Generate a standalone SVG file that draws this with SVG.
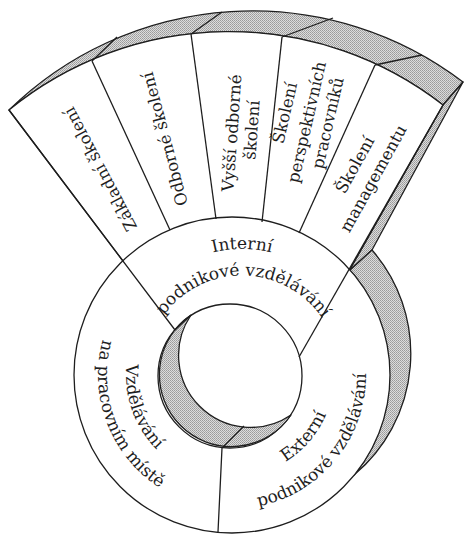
<svg xmlns="http://www.w3.org/2000/svg" xmlns:xlink="http://www.w3.org/1999/xlink" width="464" height="534" viewBox="0 0 464 534">
<style>
.ln{fill:none;stroke:#1e1e1e;stroke-width:1.3;stroke-linejoin:round}
.sh{fill:url(#dots);stroke:#1e1e1e;stroke-width:1.3;stroke-linejoin:round}
.wh{fill:#fff;stroke:#1e1e1e;stroke-width:1.3;stroke-linejoin:round}
.t{font-family:"DejaVu Serif","Liberation Serif",serif;font-size:16.5px;fill:#1e1e1e;text-anchor:middle}
.r{font-family:"DejaVu Serif","Liberation Serif",serif;font-size:17px;fill:#1e1e1e}
</style>
<defs>
<pattern id="dots" width="2" height="2" patternUnits="userSpaceOnUse">
<rect width="2" height="2" fill="#dcdcdc"/>
<rect width="1" height="1" fill="#9a9a9a"/>
<rect x="1" y="1" width="1" height="1" fill="#a8a8a8"/>
</pattern>
<path id="pInt" d="M162.9,277.8 A123,123 0 0 1 321.1,277.8"/>
<path id="pIntPod" d="M149.2,345.4 A96.5,96.5 0 0 1 335.6,348.7"/>
<path id="pNa" d="M127.9,290.7 A134,134 0 0 0 211,507.4"/>
<path id="pVzd" d="M151.5,306 A106,106 0 0 0 212.5,479.2"/>
<path id="pExtPod" d="M199.8,505.1 A134,134 0 0 0 352.3,316.1"/>
<path id="pExt" d="M231.1,477 A102,102 0 0 0 332.6,358.2"/>
</defs>
<rect width="464" height="534" fill="#fff"/>

<g id="solid">
<path class="sh" d="M9,110 A348,348 0 0 1 443,105 L463,82 A348,348 0 0 0 9,110 Z"/>
<path class="sh" d="M443,105 L463,82 L372,250 L349,271 Z"/>
<path class="sh" d="M372,250 A158,158 0 0 1 354,475 A158,158 0 0 0 349,271 Z"/>
<path class="wh" d="M9,110 A348,348 0 0 1 443,105 L349,271 L123,261 Z"/>
<circle class="wh" cx="232" cy="375" r="158"/>
<circle class="wh" cx="230" cy="376" r="72"/>
<path class="sh" d="M191,315 A72,72 0 1 0 291,415 A72,72 0 0 1 191,315 Z"/>
</g>

<g id="connectors">
<path class="ln" d="M9,110 L175,330 L190,316"/>
<path class="ln" d="M443,105 L299,357"/>
<path class="ln" d="M218,532 L222,448 L244,426"/>
<path class="ln" d="M92,61 L170,230"/>
<path class="ln" d="M191,34 L216,219"/>
<path class="ln" d="M282,37 L262,222"/>
<path class="ln" d="M375,65 L299,233"/>
<path class="ln" d="M92,61 L117,37"/>
<path class="ln" d="M191,34 L222,12"/>
<path class="ln" d="M282,37 L333,18"/>
<path class="ln" d="M375,65 L422,55"/>
</g>

<g id="zakladni-skoleni">
<text class="t" transform="translate(100.5,169) rotate(-118)" dy="0.33em">Základní školení</text>
</g>
<g id="odborne-skoleni">
<text class="t" transform="translate(165,139) rotate(-105)" dy="0.33em">Odborné školení</text>
</g>
<g id="vyssi-odborne-skoleni">
<text class="t" transform="translate(232,133) rotate(-86)" dy="0.33em">Vyšší odborné</text>
<text class="t" transform="translate(252,130) rotate(-86)" dy="0.33em">školení</text>
</g>
<g id="skoleni-perspektivnich-pracovniku">
<text class="t" transform="translate(285,113) rotate(-77)" dy="0.33em">Školení</text>
<text class="t" transform="translate(307,122) rotate(-77)" dy="0.33em">perspektivních</text>
<text class="t" transform="translate(328,123) rotate(-77)" dy="0.33em">pracovníků</text>
</g>
<g id="skoleni-managementu">
<text class="t" transform="translate(355,165) rotate(-61)" dy="0.33em">Školení</text>
<text class="t" transform="translate(373.5,178.5) rotate(-61)" dy="0.33em">managementu</text>
</g>
<g id="interni-podnikove-vzdelavani">
<text class="r"><textPath xlink:href="#pInt" startOffset="50%" text-anchor="middle">Interní</textPath></text>
<text class="r"><textPath xlink:href="#pIntPod" startOffset="50%" text-anchor="middle">podnikové vzdělávání</textPath></text>
</g>
<g id="vzdelavani-na-pracovnim-miste">
<text class="r"><textPath xlink:href="#pVzd" startOffset="50%" text-anchor="middle">Vzdělávání</textPath></text>
<text class="r"><textPath xlink:href="#pNa" startOffset="50%" text-anchor="middle">na pracovním místě</textPath></text>
</g>
<g id="externi-podnikove-vzdelavani">
<text class="r"><textPath xlink:href="#pExt" startOffset="50%" text-anchor="middle">Externí</textPath></text>
<text class="r"><textPath xlink:href="#pExtPod" startOffset="50%" text-anchor="middle">podnikové vzdělávání</textPath></text>
</g>
</svg>
